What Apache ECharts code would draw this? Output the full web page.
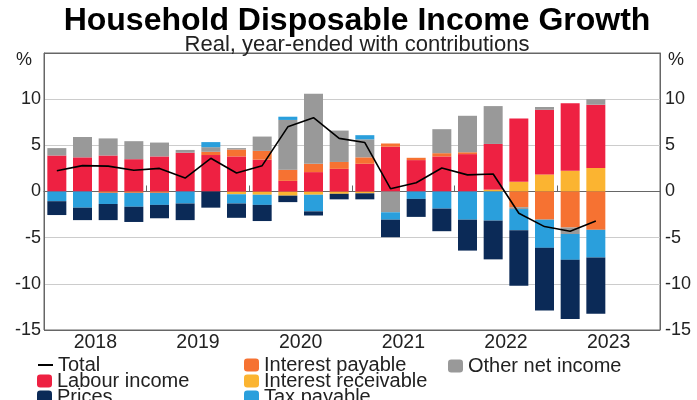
<!DOCTYPE html>
<html>
<head>
<meta charset="utf-8">
<script src="https://cdn.jsdelivr.net/npm/echarts@6/dist/echarts.min.js"></script>
<style>
html,body{margin:0;padding:0;background:#fff;}
#chart{width:697px;height:400px;}
</style>
</head>
<body>
<div id="chart"></div>
<script>
const quarters = ['2018Q1','2018Q2','2018Q3','2018Q4','2019Q1','2019Q2','2019Q3','2019Q4','2020Q1','2020Q2','2020Q3','2020Q4','2021Q1','2021Q2','2021Q3','2021Q4','2022Q1','2022Q2','2022Q3','2022Q4','2023Q1','2023Q2','2023Q3','2023Q4'];
const years = ['2018','2019','2020','2021','2022','2023'];
const yTicks = [-15,-10,-5,0,5,10,15];

const interestReceivable = [0,0,0,0,0,0,0,-0.3,-0.35,-0.45,-0.35,-0.25,-0.2,0,0,0,0,0.2,1.05,1.85,2.25,2.55];
const labourIncome = [3.9,3.7,3.9,3.5,3.8,4.2,3.95,3.8,3.45,1.15,2.1,2.45,3.0,4.85,3.4,3.8,4.05,4.95,6.85,7.0,7.3,6.85];
const interestPayable = [0,0,-0.15,-0.15,-0.15,0,0.35,0.75,0.95,1.2,0.9,0.75,0.7,0.35,0.25,0.35,0.2,0,-1.7,-3.05,-3.9,-4.15];
const otherNetIncome = [0.8,2.2,1.85,1.95,1.5,0.3,0.5,0.15,1.55,5.4,7.6,3.4,1.95,-2.25,0,2.6,3.95,4.1,-0.2,0.3,-0.7,0.6];
const taxPayable = [-1.05,-1.75,-1.2,-1.5,-1.3,-1.3,0.55,-1.0,-1.1,0.35,-1.8,0,0.45,-0.8,-0.8,-1.85,-3.05,-3.15,-2.3,-3.05,-2.8,-3.0];
const prices = [-1.5,-1.35,-1.75,-1.65,-1.45,-1.8,-1.75,-1.55,-1.75,-0.7,-0.45,-0.6,-0.65,-1.9,-1.95,-2.45,-3.35,-4.2,-6.0,-6.8,-6.4,-6.1];
const total = [2.25,2.8,2.75,2.3,2.5,1.45,3.6,2.0,2.8,7.0,8.0,5.75,5.3,0.3,0.95,2.55,1.8,1.9,-2.35,-3.8,-4.3,-3.2];

const FONT = 'Liberation Sans, Arial, sans-serif';
const chart = echarts.init(document.getElementById('chart'), null, {renderer:'canvas'});

function bar(name, data, color){
  return {name:name, type:'bar', stack:'c', data:data, xAxisIndex:0, yAxisIndex:0,
    barCategoryGap:'26%', itemStyle:{color:color}, emphasis:{disabled:true}};
}

const yLabel = {fontFamily:FONT, fontSize:18, color:'#222', formatter:function(v){return v===15?'':String(v);}};
const legendText = {fontFamily:FONT, fontSize:20, color:'#222'};

function leg(name, left, top, w, h){
  return {left:left, top:top, itemGap:0, itemWidth:w||15, itemHeight:h||13, padding:0,
    textStyle:legendText, data:[name], selectedMode:false};
}

chart.setOption({
  animation:false,
  title:[
    {text:'Household Disposable Income Growth', left:352, top:0, textAlign:'center',
     textStyle:{fontFamily:FONT, fontSize:32, fontWeight:'bold', color:'#000'}},
    {text:'Real, year-ended with contributions', left:352, top:29, textAlign:'center',
     textStyle:{fontFamily:FONT, fontSize:22, fontWeight:'normal', color:'#222'}}
  ],
  grid:{left:44, right:37, top:53, bottom:70, show:true, borderColor:'#666', borderWidth:1, backgroundColor:'transparent'},
  legend:[
    leg('Total', 37, 355, 15, 2),
    leg('Labour income', 37, 371),
    leg('Prices', 37, 387),
    leg('Interest payable', 244, 355),
    leg('Interest receivable', 244, 371),
    leg('Tax payable', 244, 387),
    leg('Other net income', 448, 356)
  ],
  xAxis:[
    {type:'category', data:quarters, show:false, boundaryGap:true, gridIndex:0},
    {type:'category', data:years, position:'bottom', boundaryGap:true, gridIndex:0,
     axisLine:{lineStyle:{color:'#666', width:1}},
     axisTick:{show:true, inside:true, length:6, lineStyle:{color:'#666'}},
     axisLabel:{fontFamily:FONT, fontSize:19.5, color:'#222', margin:3}}
  ],
  yAxis:[
    {type:'value', min:-15, max:15, interval:5, position:'left',
     axisLine:{show:true, lineStyle:{color:'#666'}}, axisTick:{show:false},
     axisLabel:Object.assign({margin:3}, yLabel),
     splitLine:{show:true, lineStyle:{color:['#666','#ccc','#ccc','#555','#ccc','#ccc','#666'], width:1}}},
    {type:'value', min:-15, max:15, interval:5, position:'right',
     axisLine:{show:true, lineStyle:{color:'#666'}}, axisTick:{show:false},
     axisLabel:Object.assign({margin:5}, yLabel),
     splitLine:{show:false}}
  ],
  graphic:[
    {type:'text', left:16, top:51, style:{text:'%', fontFamily:FONT, fontSize:18, fill:'#222'}},
    {type:'text', left:668, top:51, style:{text:'%', fontFamily:FONT, fontSize:18, fill:'#222'}}
  ],
  series:[
    bar('Interest receivable', interestReceivable, '#fbb431'),
    bar('Labour income', labourIncome, '#ee2142'),
    bar('Interest payable', interestPayable, '#f67232'),
    bar('Other net income', otherNetIncome, '#999999'),
    bar('Tax payable', taxPayable, '#2a9fdc'),
    bar('Prices', prices, '#0b2a57'),
    {name:'Total', type:'line', data:total, xAxisIndex:0, yAxisIndex:0, symbol:'none',
     lineStyle:{color:'#000', width:1.6}, itemStyle:{color:'#000'}, z:5, emphasis:{disabled:true}}
  ]
});
</script>
</body>
</html>
